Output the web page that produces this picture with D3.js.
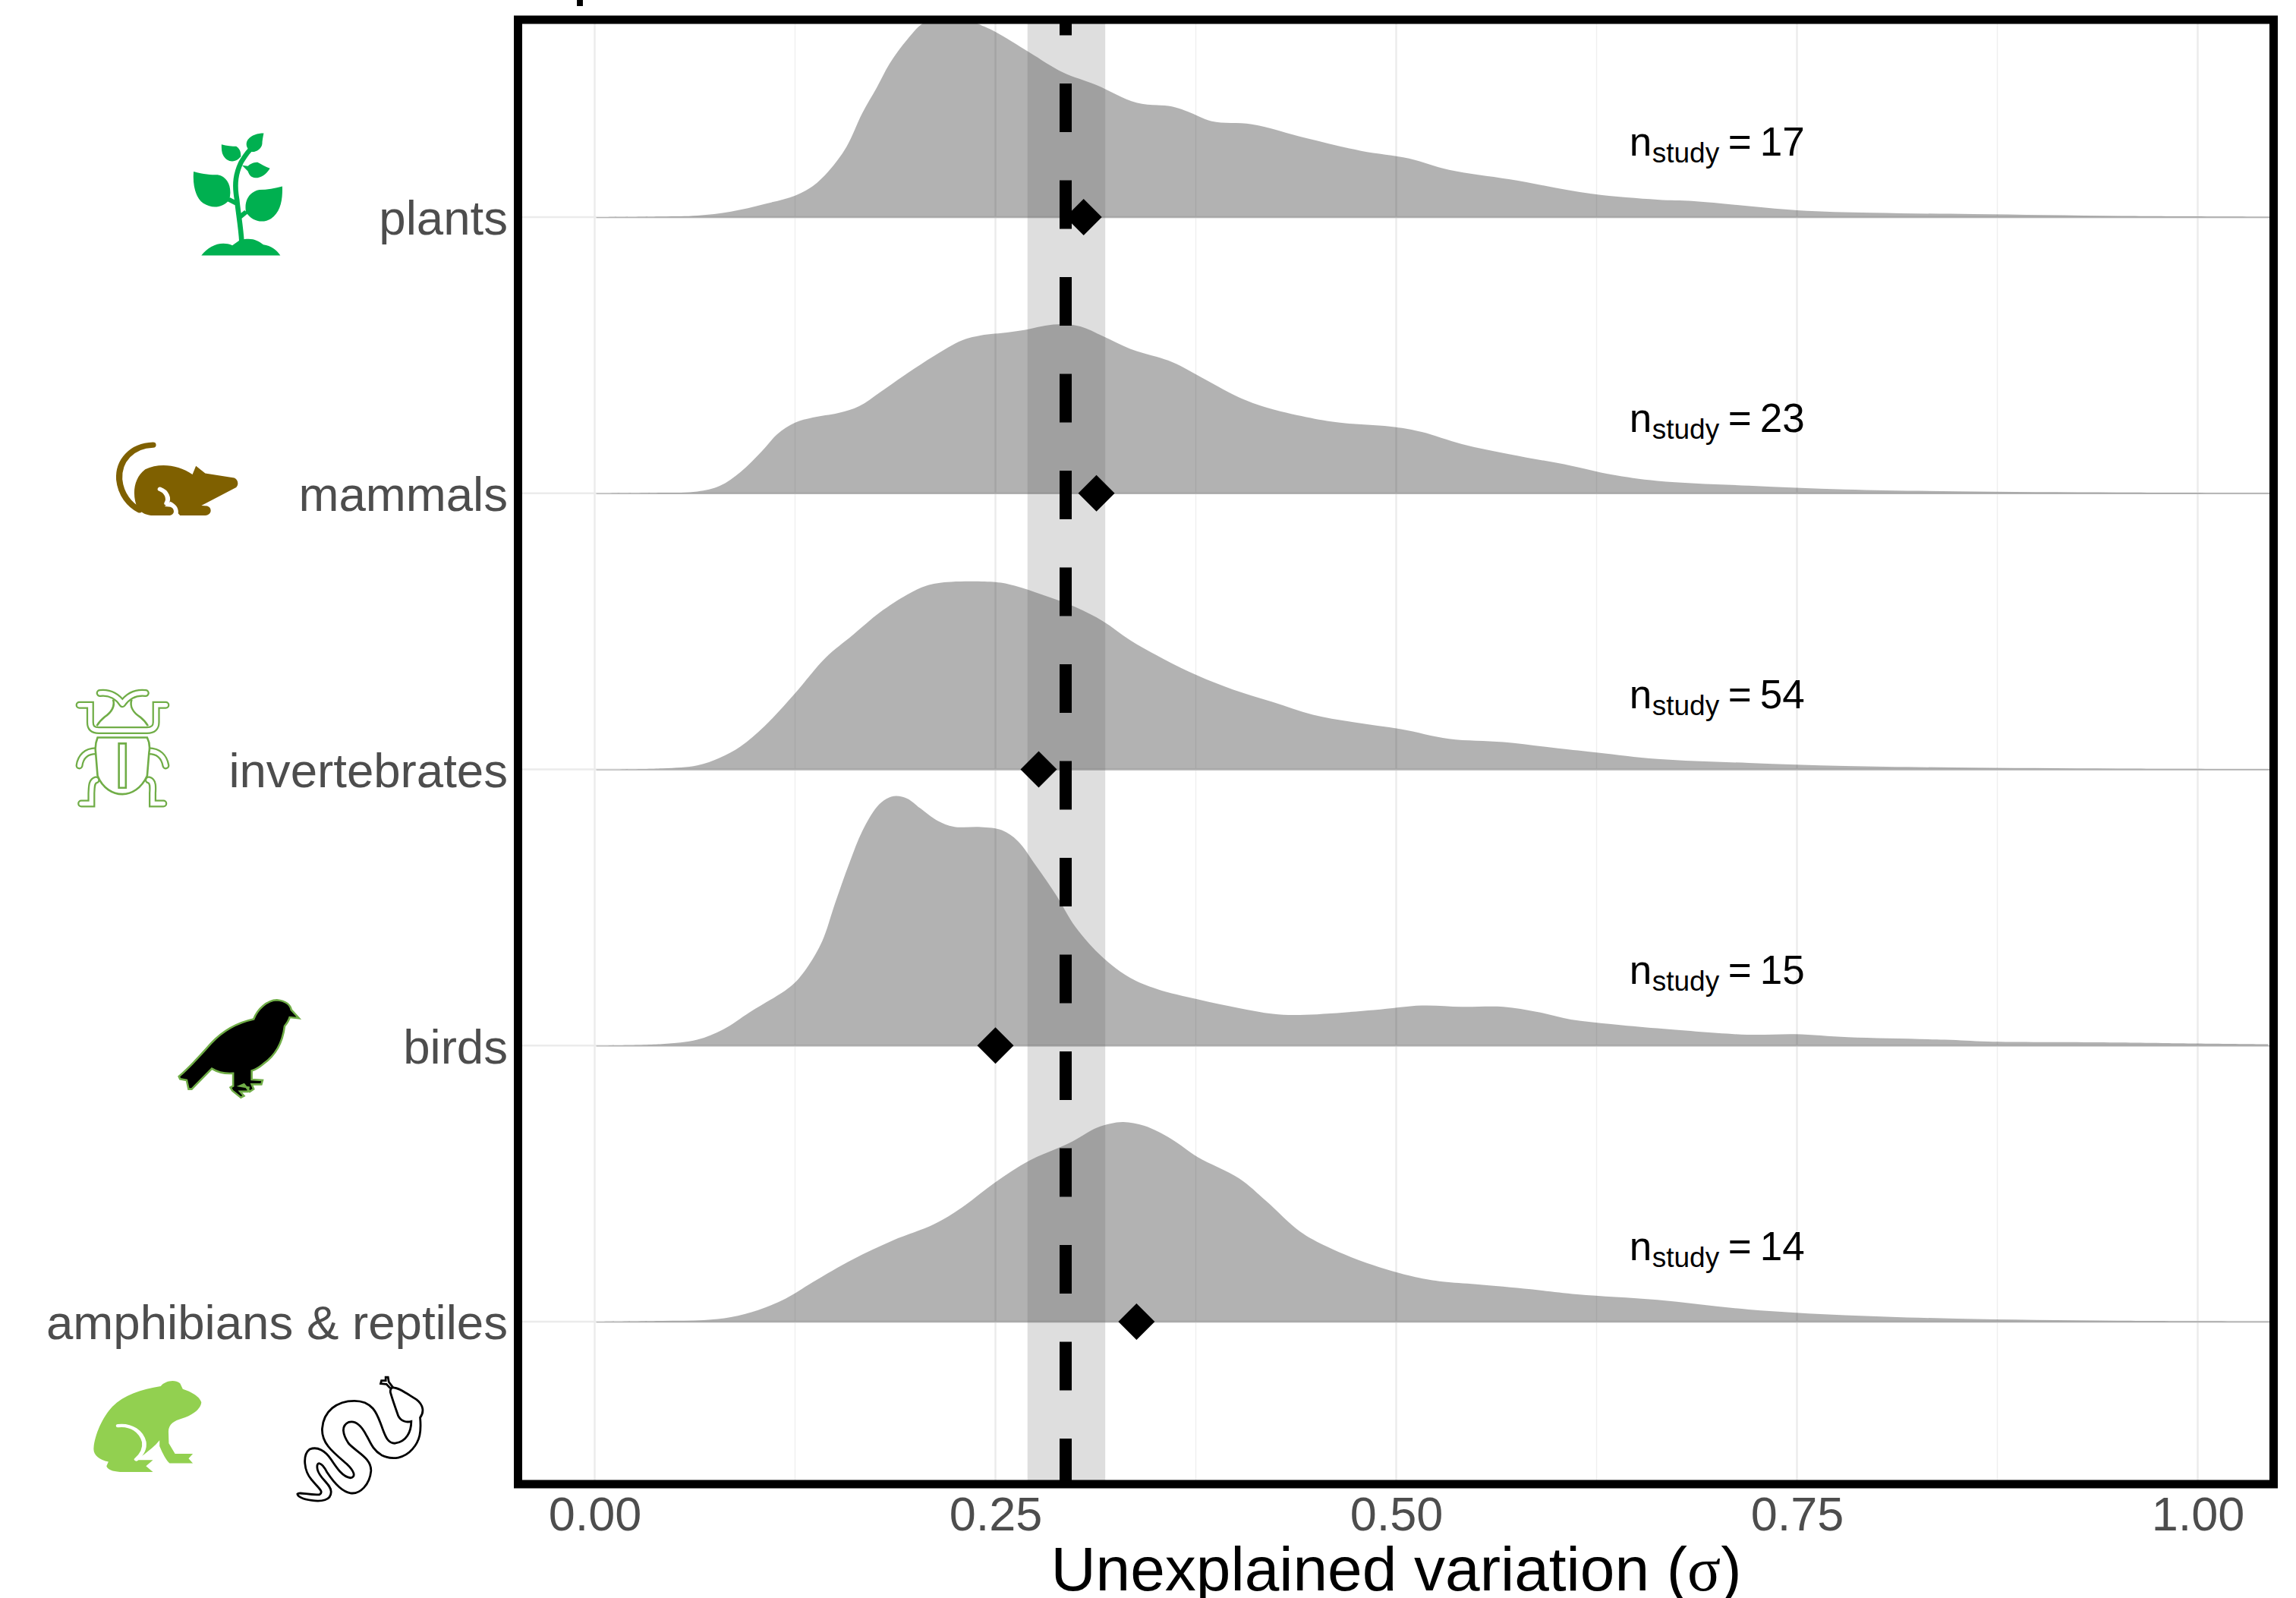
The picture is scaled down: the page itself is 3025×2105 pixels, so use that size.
<!DOCTYPE html>
<html>
<head>
<meta charset="utf-8">
<script src="https://cdn.jsdelivr.net/npm/d3@7"></script>
<style>
body { margin: 0; background: #fff; }
text { font-family: "Liberation Sans", Arial, sans-serif; }
</style>
</head>
<body>
<script>
// groups, bottom row first
var categories = ["amphibians & reptiles", "birds", "invertebrates", "mammals", "plants"];
var nStudy = [14, 15, 54, 23, 17];
var groupMeans = [0.338, 0.250, 0.277, 0.313, 0.305];

// overall mean and its interval
var overallMean = 0.2938;
var overallLow = 0.270;
var overallHigh = 0.3185;

var xTicks = [0, 0.25, 0.5, 0.75, 1];
var xMinorTicks = [0.125, 0.375, 0.625, 0.875];

// densities
var plantsX = [0.001, 0.042, 0.064, 0.085, 0.106, 0.125, 0.136, 0.146, 0.157, 0.167, 0.176, 0.184, 0.195, 0.205, 0.222, 0.239, 0.250, 0.271, 0.292, 0.313, 0.338, 0.360, 0.370, 0.385, 0.410, 0.444, 0.478, 0.508, 0.533, 0.571, 0.622, 0.663, 0.686, 0.750, 0.797, 0.860, 0.955, 1.045];
var plantsD = [0, 0.007, 0.02, 0.073, 0.173, 0.283, 0.407, 0.607, 0.923, 1.373, 1.707, 2.023, 2.34, 2.557, 2.70, 2.547, 2.44, 2.173, 1.907, 1.74, 1.507, 1.457, 1.39, 1.263, 1.223, 1.04, 0.873, 0.773, 0.623, 0.497, 0.307, 0.23, 0.21, 0.09, 0.057, 0.04, 0.015, 0.005];

var mammalsX = [0.001, 0.042, 0.064, 0.078, 0.091, 0.104, 0.114, 0.125, 0.136, 0.152, 0.165, 0.178, 0.195, 0.212, 0.229, 0.241, 0.258, 0.271, 0.281, 0.292, 0.303, 0.317, 0.334, 0.360, 0.381, 0.402, 0.419, 0.444, 0.465, 0.499, 0.516, 0.541, 0.571, 0.609, 0.634, 0.663, 0.72, 0.78, 0.85, 0.95, 1.045];
var mammalsD = [0, 0.007, 0.023, 0.097, 0.28, 0.547, 0.78, 0.93, 0.997, 1.057, 1.147, 1.33, 1.58, 1.813, 2.013, 2.08, 2.12, 2.163, 2.207, 2.227, 2.197, 2.07, 1.903, 1.73, 1.497, 1.263, 1.13, 1.003, 0.93, 0.873, 0.807, 0.647, 0.513, 0.363, 0.247, 0.163, 0.10, 0.05, 0.025, 0.01, 0.004];

var invertsX = [0.001, 0.042, 0.064, 0.078, 0.091, 0.106, 0.125, 0.144, 0.161, 0.178, 0.195, 0.207, 0.220, 0.250, 0.262, 0.279, 0.300, 0.317, 0.334, 0.355, 0.376, 0.398, 0.423, 0.448, 0.474, 0.503, 0.533, 0.567, 0.601, 0.626, 0.663, 0.72, 0.78, 0.85, 0.95, 1.045];
var invertsD = [0, 0.013, 0.053, 0.153, 0.303, 0.57, 1.003, 1.47, 1.77, 2.07, 2.303, 2.42, 2.467, 2.467, 2.42, 2.303, 2.137, 1.953, 1.703, 1.453, 1.237, 1.053, 0.887, 0.72, 0.62, 0.53, 0.403, 0.36, 0.277, 0.22, 0.137, 0.085, 0.045, 0.025, 0.01, 0.004];

var birdsX = [0.001, 0.042, 0.064, 0.080, 0.097, 0.123, 0.133, 0.142, 0.150, 0.159, 0.167, 0.176, 0.182, 0.188, 0.195, 0.203, 0.214, 0.224, 0.241, 0.254, 0.264, 0.275, 0.288, 0.300, 0.317, 0.334, 0.351, 0.376, 0.402, 0.423, 0.440, 0.486, 0.516, 0.541, 0.567, 0.588, 0.609, 0.634, 0.663, 0.719, 0.749, 0.782, 0.842, 0.869, 0.937, 0.978, 1.044];
var birdsD = [0, 0.02, 0.077, 0.21, 0.443, 0.793, 1.043, 1.377, 1.877, 2.41, 2.827, 3.143, 3.25, 3.287, 3.253, 3.127, 2.96, 2.883, 2.877, 2.837, 2.693, 2.377, 1.977, 1.56, 1.16, 0.893, 0.743, 0.61, 0.493, 0.417, 0.403, 0.467, 0.527, 0.51, 0.51, 0.443, 0.343, 0.283, 0.227, 0.143, 0.15, 0.11, 0.077, 0.053, 0.043, 0.033, 0.017];

var amphibX = [0.001, 0.042, 0.068, 0.085, 0.102, 0.119, 0.136, 0.161, 0.186, 0.212, 0.229, 0.250, 0.271, 0.296, 0.313, 0.322, 0.330, 0.343, 0.360, 0.376, 0.402, 0.419, 0.440, 0.457, 0.482, 0.512, 0.529, 0.550, 0.584, 0.613, 0.663, 0.72, 0.78, 0.85, 0.95, 1.045];
var amphibD = [0, 0.01, 0.02, 0.06, 0.153, 0.303, 0.52, 0.82, 1.07, 1.287, 1.503, 1.837, 2.12, 2.353, 2.553, 2.61, 2.63, 2.58, 2.403, 2.17, 1.887, 1.587, 1.187, 0.987, 0.77, 0.587, 0.527, 0.493, 0.427, 0.36, 0.287, 0.16, 0.085, 0.04, 0.012, 0.004];

var ridgeX = [amphibX, birdsX, invertsX, mammalsX, plantsX];
var ridgeD = [amphibD, birdsD, invertsD, mammalsD, plantsD];

//Width and height
var w = 3025;
var h = 2105;

// panel inner edges
var panelLeft = 688, panelRight = 2990, panelTop = 31, panelBottom = 1950;

var svg = d3.select("body").append("svg").attr("width", w).attr("height", h)
  .style("display", "block");

var x = d3.scaleLinear().domain([0, 1]).range([783.5, 2895.5]);
var y = d3.scalePoint().domain(categories).range([1741, 286]);
var ridgeHeight = d3.scaleLinear().domain([0, 1]).range([0, 100]);

svg.append("clipPath").attr("id", "panel").append("rect")
  .attr("x", panelLeft).attr("y", panelTop)
  .attr("width", panelRight - panelLeft).attr("height", panelBottom - panelTop);

// cut off title remnant at the very top
svg.append("text").attr("x", 754).attr("y", -11)
  .attr("font-size", 90).attr("fill", "#000").text("p");

var panel = svg.append("g").attr("clip-path", "url(#panel)");

// gridlines
panel.selectAll("line.minor").data(xMinorTicks).enter().append("line")
  .attr("class", "minor")
  .attr("x1", x).attr("x2", x).attr("y1", panelTop).attr("y2", panelBottom)
  .attr("stroke", "#efefef").attr("stroke-width", 1.4);
panel.selectAll("line.major").data(xTicks).enter().append("line")
  .attr("class", "major")
  .attr("x1", x).attr("x2", x).attr("y1", panelTop).attr("y2", panelBottom)
  .attr("stroke", "#ebebeb").attr("stroke-width", 2.4);
panel.selectAll("line.row").data(categories).enter().append("line")
  .attr("class", "row")
  .attr("x1", panelLeft).attr("x2", panelRight)
  .attr("y1", y).attr("y2", y)
  .attr("stroke", "#ebebeb").attr("stroke-width", 2.4);

// ridges
var ridge = panel.selectAll("g.ridge").data(categories).enter().append("g")
  .attr("class", "ridge");

// thin base sits just under the fill so the two do not darken each other
ridge.append("line")
  .attr("x1", x(0.001)).attr("x2", panelRight)
  .attr("y1", function(d) { return y(d) + 0.6; })
  .attr("y2", function(d) { return y(d) + 0.6; })
  .attr("stroke", "#b3b3b3").attr("stroke-width", 1.2);

ridge.append("path")
  .attr("fill", "#000").attr("fill-opacity", 0.3)
  .attr("d", function(cat, i) {
    var base = y(cat);
    var area = d3.area()
      .x(function(d) { return x(d[0]); })
      .y0(base)
      .y1(function(d) { return Math.min(base, base - ridgeHeight(d[1])); })
      .curve(d3.curveCatmullRom.alpha(0.5));
    return area(d3.zip(ridgeX[i], ridgeD[i]));
  });

// overall interval and mean
panel.append("rect")
  .attr("x", x(overallLow)).attr("width", x(overallHigh) - x(overallLow))
  .attr("y", panelTop).attr("height", panelBottom - panelTop)
  .attr("fill", "#575757").attr("fill-opacity", 0.195);

panel.append("line")
  .attr("x1", x(overallMean)).attr("x2", x(overallMean))
  .attr("y1", 1959).attr("y2", panelTop)
  .attr("stroke", "#000").attr("stroke-width", 16)
  .attr("stroke-dasharray", "64 63.5");

// group means
panel.selectAll("path.mean").data(groupMeans).enter().append("path")
  .attr("class", "mean")
  .attr("d", d3.symbol(d3.symbolSquare, 48 * 48 / 2))
  .attr("transform", function(d, i) {
    return "translate(" + x(d) + "," + y(categories[i]) + ") rotate(45)";
  })
  .attr("fill", "#000");

// study counts
var nLabel = svg.selectAll("text.nlabel").data(nStudy).enter().append("text")
  .attr("class", "nlabel")
  .attr("y", function(d, i) { return y(categories[i]) - 81; })
  .attr("font-size", 53).attr("fill", "#000");
var labelX = x(0.645) + 1;
nLabel.append("tspan").attr("x", labelX).text("n");
nLabel.append("tspan").attr("x", labelX + 30).attr("dy", 9).attr("font-size", 37).text("study");
nLabel.append("tspan").attr("x", labelX + 130).attr("dy", -9).text("=");
nLabel.append("tspan").attr("x", labelX + 172).text(function(d) { return d; });

// frame
svg.append("rect")
  .attr("x", 682.5).attr("y", 26)
  .attr("width", 2995.5 - 682.5).attr("height", 1955 - 26)
  .attr("fill", "none").attr("stroke", "#000").attr("stroke-width", 11);

// axes
var xAxis = d3.axisBottom(x).tickValues(xTicks).tickFormat(d3.format(".2f"))
  .tickSize(0).tickPadding(11);
var gx = svg.append("g").attr("transform", "translate(0,1960)").call(xAxis);
gx.select(".domain").remove();
gx.selectAll("text").attr("font-size", 63).attr("fill", "#4d4d4d")
  .style("font-family", '"Liberation Sans", Arial, sans-serif');

var yAxis = d3.axisLeft(y).tickSize(0).tickPadding(8);
var gy = svg.append("g").attr("transform", "translate(677,0)").call(yAxis);
gy.select(".domain").remove();
gy.selectAll("text").attr("font-size", 63.6).attr("fill", "#4d4d4d").attr("dy", "0.36em")
  .style("font-family", '"Liberation Sans", Arial, sans-serif');

var xTitle = svg.append("text")
  .attr("x", x(0.5)).attr("y", 2095)
  .attr("text-anchor", "middle").attr("font-size", 82).attr("fill", "#000");
xTitle.append("tspan").text("Unexplained variation (");
xTitle.append("tspan").style("font-family", '"Liberation Serif", serif').text("σ");
xTitle.append("tspan").text(")");

// group icons, drawn in the coordinates of the zoomed crops
var iconStrip = svg.append("g");

var plant = iconStrip.append("g").attr("transform", "scale(0.5102,0.4464)").attr("fill", "#00b050");
plant.append("path").attr("d", "M520 754C540 725 570 710 600 724L620 708C650 700 665 708 680 722C700 725 715 738 724 754Z");
plant.append("path").attr("d", "M500 506C525 514 545 516 562 516C590 522 600 555 592 590C575 612 550 618 525 600C505 585 497 545 500 506Z");
plant.append("path").attr("d", "M729 550C710 556 690 560 670 560C645 565 630 590 635 625C650 655 680 660 700 645C725 625 730 590 729 550Z");
plant.append("path").attr("d", "M572 426C585 430 600 432 610 432C622 440 622 455 622 462L615 470C600 482 585 475 577 460C572 450 572 438 572 426Z");
plant.append("path").attr("d", "M681 393C679 405 677 415 677 425C675 440 660 450 650 448C638 442 632 425 640 412C650 398 665 393 681 393Z");
plant.append("path").attr("d", "M697 497C685 492 675 485 665 479C655 478 645 485 640 490L625 488L640 505C645 520 650 525 665 525C680 522 690 510 697 497Z");
plant.append("path").attr("fill", "none").attr("stroke", "#00b050").attr("stroke-width", 13)
  .attr("d", "M624 712C622 670 614 620 612 590C604 540 610 510 622 480C630 465 640 445 652 436M590 588L610 600M636 625L620 640");

var mouse = iconStrip.append("g").attr("transform", "scale(0.5102,0.4464)");
mouse.append("path").attr("fill", "none").attr("stroke", "#7f6000").attr("stroke-width", 16).attr("stroke-linecap", "round")
  .attr("d", "M395 1313C340 1315 305 1360 308 1415C312 1460 335 1490 360 1505");
mouse.append("path").attr("fill", "#7f6000")
  .attr("d", "M355 1500C340 1460 345 1410 375 1385C410 1365 460 1370 497 1400L506 1375L530 1397L605 1410C615 1415 617 1430 610 1438L520 1492L535 1493C548 1497 548 1520 530 1521L465 1521L460 1515C462 1500 455 1488 440 1480L425 1494L440 1496C452 1500 452 1520 438 1521L390 1521C375 1520 362 1510 355 1500Z");
mouse.append("path").attr("fill", "none").attr("stroke", "#fff").attr("stroke-width", 12).attr("stroke-linecap", "round")
  .attr("d", "M413 1443C430 1450 438 1470 430 1485");

var beetleLines = "M205 190H233V245C233 262 240 270 255 270H380C395 270 403 262 403 245V190H428"
  + "M258 152C285 148 305 165 316 186M376 152C348 148 328 165 316 186"
  + "M248 336C222 336 208 355 205 382M384 336C410 336 424 355 428 382"
  + "M248 428C236 432 237 450 236 470V503H210M384 428C396 432 395 450 394 470V503H422";
var beetle = iconStrip.append("g").attr("transform", "translate(0,850) scale(0.5102,0.4146)");
beetle.append("path").attr("d", beetleLines).attr("fill", "none").attr("stroke", "#70ad47")
  .attr("stroke-width", 10).attr("stroke-linecap", "round").attr("vector-effect", "non-scaling-stroke");
beetle.append("path").attr("d", beetleLines).attr("fill", "none").attr("stroke", "#fff")
  .attr("stroke-width", 5.5).attr("stroke-linecap", "round").attr("vector-effect", "non-scaling-stroke");
beetle.append("path").attr("fill", "none").attr("stroke", "#70ad47").attr("stroke-width", 2.6).attr("vector-effect", "non-scaling-stroke")
  .attr("d", "M292 172C298 195 285 215 270 228C262 236 255 245 250 256M340 172C334 195 345 215 362 228C370 236 377 245 382 256");
beetle.append("path").attr("fill", "#fff").attr("stroke", "#70ad47").attr("stroke-width", 2.6).attr("vector-effect", "non-scaling-stroke")
  .attr("d", "M252 293H380C385 305 388 320 385 340L380 415C365 455 340 473 316 473C292 473 265 455 252 415L247 340C245 320 248 305 252 293Z");
beetle.append("path").attr("fill", "#fff").attr("stroke", "#70ad47").attr("stroke-width", 2.6).attr("vector-effect", "non-scaling-stroke")
  .attr("d", "M307 312H325V453H307Z");

iconStrip.append("path").attr("transform", "translate(0,850) scale(0.5102,0.4146)")
  .attr("fill", "#000").attr("stroke", "#70ad47").attr("stroke-width", 2.6).attr("vector-effect", "non-scaling-stroke")
  .attr("d", "M772 1185L748 1182C745 1195 738 1205 735 1210C730 1260 715 1300 680 1330C668 1342 660 1348 650 1352L650 1380L678 1382L675 1395L650 1395L655 1410L645 1418L630 1395L620 1400L642 1405L640 1418L620 1418L630 1432L622 1437L600 1415L595 1405L602 1400L602 1360C580 1362 560 1355 547 1345L495 1410L487 1410L482 1382L465 1378L462 1370C490 1340 520 1300 545 1265C575 1225 610 1200 655 1188C665 1155 690 1128 715 1127C740 1130 750 1145 752 1158Z");

var frog = iconStrip.append("g").attr("transform", "translate(0,1500) scale(0.5102,0.3858)");
frog.append("path").attr("fill", "#92d050")
  .attr("d", "M415 845C425 828 450 820 465 835L472 855C495 865 515 880 520 900C518 925 495 945 470 955C450 962 435 975 435 1000L436 1040L452 1076L498 1076L487 1092L498 1108L438 1108C430 1100 420 1075 412 1050L412 1030C400 1050 385 1065 372 1078L350 1097L395 1097L377 1118L395 1138L310 1138C290 1136 278 1130 275 1118L280 1103C255 1095 240 1080 242 1055C245 1010 265 950 290 915C320 875 365 855 415 845Z");
frog.append("path").attr("fill", "none").attr("stroke", "#fff").attr("stroke-width", 11).attr("stroke-linecap", "round")
  .attr("d", "M305 980C340 975 365 1000 372 1035C375 1060 365 1080 352 1095");

var snake = iconStrip.append("g").attr("transform", "translate(0,1500) scale(0.5102,0.3858)")
  .attr("fill", "none").attr("stroke", "#000").attr("stroke-width", 2.8);
snake.append("path").attr("vector-effect", "non-scaling-stroke")
  .attr("d", "M1015 850L1004 830L1002 814L996 814L996 826L985 826L983 836L998 838L1008 852");
snake.append("path").attr("vector-effect", "non-scaling-stroke").attr("fill", "#fff")
  .attr("d", "M1015 850C1030 850 1050 870 1075 890C1095 910 1095 935 1085 952C1088 1000 1085 1030 1065 1060C1045 1090 1015 1100 985 1080C960 1060 955 1030 945 1010C935 985 920 960 900 968C880 980 885 1010 900 1040C920 1070 960 1090 958 1135C955 1180 930 1215 905 1210C880 1205 860 1170 845 1140C830 1100 815 1100 820 1130C825 1160 855 1180 855 1205C855 1235 830 1240 805 1235C790 1232 770 1225 768 1213C772 1205 800 1218 825 1215C838 1205 820 1190 805 1165C785 1135 780 1080 800 1060C820 1050 840 1065 855 1095C870 1125 885 1155 905 1158C920 1155 915 1135 895 1110C860 1070 830 1040 832 990C835 930 870 895 915 895C965 895 975 945 985 980C995 1015 1000 1040 1020 1040C1050 1035 1062 1000 1062 965C1050 970 1035 965 1028 945C1020 915 1012 885 1008 865C1008 855 1010 850 1015 850Z");
</script>
</body>
</html>
